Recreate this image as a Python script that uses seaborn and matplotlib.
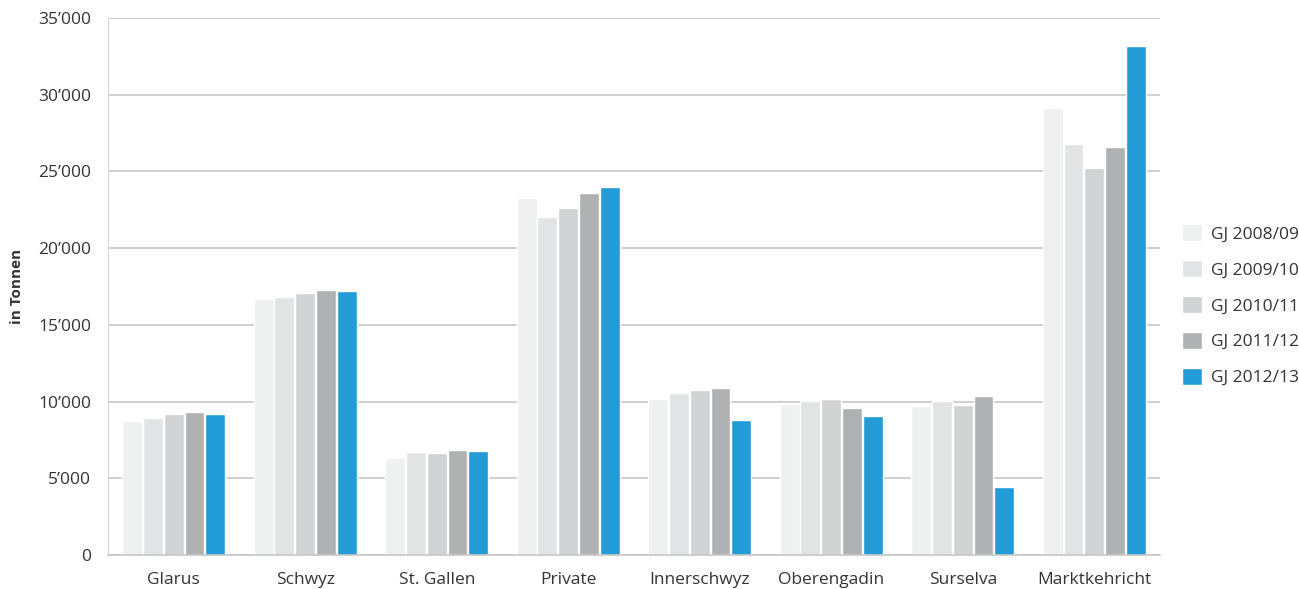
import pandas as pd
import matplotlib.pyplot as plt
import seaborn as sns
from matplotlib.patches import Patch
from matplotlib.ticker import FuncFormatter

regions = ["Glarus", "Schwyz", "St. Gallen", "Private", "Innerschwyz",
           "Oberengadin", "Surselva", "Marktkehricht"]
years = ["GJ 2008/09", "GJ 2009/10", "GJ 2010/11", "GJ 2011/12", "GJ 2012/13"]

gj_0809 = [8750, 16700, 6350, 23300, 10200, 9850, 9700, 29150]
gj_0910 = [8900, 16800, 6700, 22000, 10550, 10050, 10050, 26800]
gj_1011 = [9200, 17100, 6680, 22650, 10750, 10200, 9750, 25200]
gj_1112 = [9300, 17300, 6870, 23600, 10900, 9600, 10350, 26600]
gj_1213 = [9220, 17200, 6750, 24000, 8800, 9030, 4450, 33200]

colors = ["#eff0f0", "#e2e3e4", "#d1d2d4", "#b0b1b3", "#239bd7"]

df = pd.DataFrame({"Region": regions, years[0]: gj_0809, years[1]: gj_0910,
                   years[2]: gj_1011, years[3]: gj_1112, years[4]: gj_1213})
long = df.melt(id_vars="Region", var_name="Jahr", value_name="Tonnen")

sns.set_style("white")
plt.rcParams["font.family"] = ["Open Sans", "DejaVu Sans"]

fig = plt.figure(figsize=(12.99, 5.89), dpi=100)
ax = fig.add_axes([0.0831, 0.0577, 0.8099, 0.9117])

sns.barplot(data=long, x="Region", y="Tonnen", hue="Jahr", hue_order=years,
            palette=colors, width=0.79, gap=0.04, saturation=1, ax=ax, legend=False)

ax.set_ylim(0, 35000)
ax.set_xlim(-0.5, len(regions) - 0.5)
ax.set_yticks(range(0, 35001, 5000))
ax.yaxis.set_major_formatter(FuncFormatter(lambda v, p: f"{int(v):,}".replace(",", "’")))
ax.grid(axis="y", color="#c6c7c9", linewidth=1.2, zorder=0)
ax.set_axisbelow(True)

# ticks between the groups, labels in the middle
ax.set_xticks(range(len(regions)))
ax.set_xticklabels(regions)
ax.set_xticks([i - 0.5 for i in range(len(regions) + 1)], minor=True)
ax.tick_params(axis="x", which="major", length=0, pad=12, labelsize=12.5, labelcolor="#333333")
ax.tick_params(axis="x", which="minor", length=7, color="#c6c7c9", width=1.2, direction="out")
ax.tick_params(axis="y", length=6, color="#c6c7c9", width=1.2, labelsize=12.5,
               labelcolor="#333333", pad=6)

for s in ["top", "right"]:
    ax.spines[s].set_visible(False)
ax.spines["left"].set_color("#d5d6d8")
ax.spines["bottom"].set_color("#c6c7c9")
ax.spines["bottom"].set_linewidth(1.2)

ax.set_xlabel("")
ax.set_ylabel("in Tonnen", fontsize=11, fontweight="bold", color="#333333", labelpad=10)

handles = [Patch(facecolor=c, label=y) for c, y in zip(colors, years)]
fig.legend(handles=handles, loc="center left", bbox_to_anchor=(0.898, 0.482),
           frameon=False, fontsize=12.5, handlelength=1.15, handleheight=1.15,
           handletextpad=0.5, labelspacing=1.0, labelcolor="#333333")

fig.savefig("out.png", dpi=100)
